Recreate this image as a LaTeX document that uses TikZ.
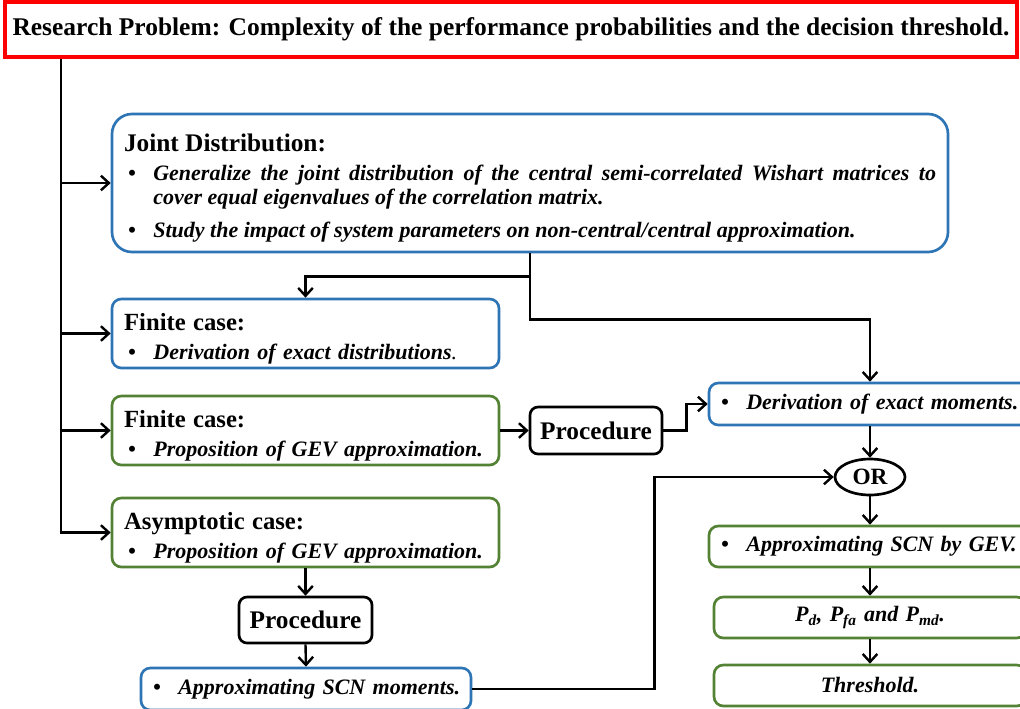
\documentclass[tikz,border=0pt]{standalone}
\usepackage{fontspec}
\setmainfont{Liberation Serif}
\usetikzlibrary{arrows.meta,positioning,shapes.geometric,calc}
\definecolor{boxblue}{RGB}{46,117,182}
\definecolor{boxgreen}{RGB}{84,130,53}
\newcommand\bul[1]{\par\hangindent=22pt\hangafter=1\noindent\makebox[22pt][l]{\hspace{3pt}\textbullet}#1}
\newcommand\onebul[1]{\mbox{\makebox[19pt][l]{\textbullet}#1}}
\newcommand\head[2][18.5]{{\upshape\fontsize{#1}{22}\selectfont\rule{0pt}{21pt}#2}\par\vspace{3.5pt}}

\begin{document}
\begin{tikzpicture}[x=0.75pt,y=-0.75pt,
  box/.style={draw, line width=2pt, rounded corners=7pt, inner xsep=9pt, inner ysep=0pt,
    font=\fontsize{16.5}{18}\selectfont\bfseries\itshape},
  bluebox/.style={box, draw=boxblue},
  greenbox/.style={box, draw=boxgreen},
  procbox/.style={draw, line width=2pt, rounded corners=6pt, inner sep=0pt,
    font=\fontsize{19}{22}\selectfont\bfseries},
  orbox/.style={ellipse, draw, line width=2pt, inner sep=0pt,
    font=\fontsize{17.5}{20}\selectfont\bfseries},
  link/.style={line width=1.8pt, -{Straight Barb[length=6pt,width=11pt]}}]
\useasboundingbox (0,0) rectangle (1020,708);
\node[draw=red, line width=3pt, minimum width=759pt, minimum height=41.25pt, inner sep=0pt,
  font=\fontsize{19.1}{22}\selectfont\bfseries] (title) at (511,29.5)
  {Research Problem: Complexity of the performance probabilities and the decision threshold.};
\node[bluebox, rounded corners=15pt, minimum width=627pt, minimum height=103.5pt, text width=609pt, align=justify] (joint) at (530,183)
  {\head[19]{Joint Distribution:}
   \bul{Generalize the joint distribution of the central semi-correlated Wishart matrices to\linebreak cover equal eigenvalues of the correlation matrix.}\par\vspace{7pt}
   \bul{Study the impact of system parameters on non-central/central approximation.}};
\node[bluebox, minimum width=290.25pt, minimum height=51.75pt, text width=272pt] (fin1) at (305.5,333.5)
  {\head{Finite case:}\bul{Derivation of exact distributions{\mdseries.}}};
\node[greenbox, minimum width=290.25pt, minimum height=51.75pt, text width=272pt] (fin2) at (305.5,430.5)
  {\head{Finite case:}\bul{Proposition of GEV approximation.}};
\node[greenbox, minimum width=290.25pt, minimum height=51.75pt, text width=272pt] (asym) at (305.5,532.5)
  {\head{Asymptotic case:}\bul{Proposition of GEV approximation.}};
\node[procbox, minimum width=99pt, minimum height=35.25pt] (proc1) at (596,430.5) {Procedure};
\node[procbox, minimum width=99.75pt, minimum height=34.5pt] (proc2) at (305.5,620) {Procedure};
\node[bluebox, minimum width=247.5pt, minimum height=31.5pt, text width=229.5pt] (scnm) at (306,689)
  {\onebul{Approximating SCN moments.}};
\node[bluebox, minimum width=241.5pt, minimum height=31.5pt, text width=223.5pt] (der) at (870,404)
  {\onebul{Derivation of exact moments.}};
\node[orbox, minimum width=52.5pt, minimum height=27pt] (or) at (870,477) {OR};
\node[greenbox, minimum width=241.5pt, minimum height=30.75pt, text width=223.5pt] (gev) at (870,546.5)
  {\onebul{Approximating SCN by GEV.}};
\node[greenbox, minimum width=234pt, minimum height=30.75pt, text width=216pt, align=center] (pd) at (870,617.5)
  {P\textsubscript{d}, P\textsubscript{fa} and P\textsubscript{md}.};
\node[greenbox, minimum width=234pt, minimum height=30.75pt, text width=216pt, align=center] (thr) at (870,685.5)
  {Threshold.};
\coordinate (t0) at ($(title.south west)+(58,0)$);
\draw[link] (t0) |- (asym.west);
\foreach \n in {joint,fin1,fin2} \draw[link] (t0 |- \n.west) -- (\n.west);
\draw[link] (joint.south) -- ++(0,23) -| (fin1.north);
\draw[link] (joint.south) -- ++(0,66) -| (der.north);
\draw[link] (fin2.east) -- (proc1.west);
\draw[link] (proc1.east) -- ++(23,0) |- (der.west);
\draw[link] (der.south) -- (or.north);
\draw[link] (asym.south) -- (proc2.north);
\draw[link] (proc2.south) -- (scnm.north);
\draw[link] (scnm.east) -- ++(182,0) |- (or.west);
\draw[link] (or.south) -- (gev.north);
\draw[link] (gev.south) -- (pd.north);
\draw[link] (pd.south) -- (thr.north);
\end{tikzpicture}
\end{document}
